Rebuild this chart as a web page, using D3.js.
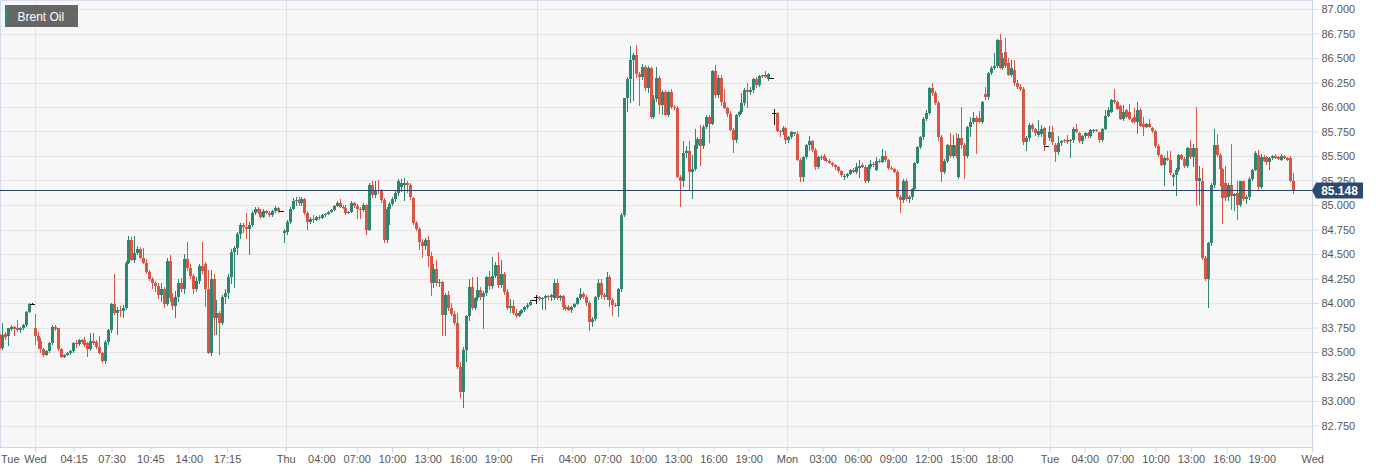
<!DOCTYPE html>
<html><head><meta charset="utf-8">
<script src="https://cdn.jsdelivr.net/npm/d3@7/dist/d3.min.js"></script>
<style>
html,body{margin:0;padding:0;background:#fff;}
svg{display:block;font-family:"Liberation Sans",Arial,Helvetica,sans-serif;}
</style></head><body>
<svg id="chart" width="1379" height="472"></svg>
<script>
const seriesName = "Brent Oil";
const lastPrice = 85.148;

// OHLC bars [open, high, low, close], 15-minute candles
const tueBars = [
[83.68,83.68,83.39,83.53],[83.54,83.80,83.53,83.67],[83.68,83.70,83.63,83.65],[83.66,83.75,83.57,83.74],[83.73,83.78,83.72,83.76],
[83.76,83.77,83.67,83.73],[83.74,83.83,83.71,83.72],[83.72,83.76,83.70,83.75],[83.74,83.79,83.73,83.78],[83.78,83.92,83.76,83.91],
[83.91,84.00,83.90,83.99],[83.99,84.00,83.98,83.99]];
const wedBars = [
[83.74,83.89,83.58,83.66],[83.66,83.70,83.54,83.61],[83.61,83.64,83.50,83.53],[83.53,83.54,83.45,83.47],[83.47,83.52,83.46,83.51],
[83.51,83.60,83.50,83.59],[83.59,83.78,83.58,83.76],[83.76,83.78,83.72,83.73],[83.74,83.75,83.52,83.53],[83.53,83.54,83.44,83.45],
[83.45,83.48,83.44,83.47],[83.47,83.50,83.46,83.49],[83.49,83.52,83.47,83.51],[83.51,83.60,83.50,83.59],[83.59,83.62,83.55,83.58],
[83.58,83.63,83.57,83.62],[83.62,83.63,83.59,83.60],[83.62,83.65,83.56,83.57],[83.59,83.60,83.45,83.53],[83.53,83.69,83.52,83.61],
[83.61,83.69,83.58,83.59],[83.60,83.62,83.54,83.55],[83.55,83.66,83.48,83.49],[83.49,83.50,83.39,83.41],[83.41,83.62,83.38,83.60],
[83.60,83.73,83.58,83.72],[83.72,84.00,83.70,83.99],[83.99,84.30,83.88,83.90],[83.90,83.96,83.68,83.93],[83.93,83.97,83.86,83.92],
[83.92,83.98,83.85,83.95],[83.95,84.43,83.93,84.41],[84.41,84.68,84.40,84.64],[84.64,84.67,84.43,84.44],[84.44,84.68,84.41,84.51],
[84.51,84.58,84.49,84.55],[84.55,84.57,84.45,84.46],[84.46,84.56,84.40,84.41],[84.41,84.45,84.30,84.32],[84.32,84.34,84.23,84.25],
[84.25,84.27,84.15,84.20],[84.20,84.22,84.12,84.17],[84.17,84.20,84.05,84.08],[84.08,84.20,84.02,84.14],[84.14,84.16,83.95,83.99],
[83.99,84.46,83.97,84.43],[84.43,84.49,84.02,84.05],[84.05,84.10,83.93,83.97],[83.97,84.12,83.85,84.06],[84.06,84.24,84.02,84.20],
[84.20,84.26,84.12,84.14],[84.14,84.50,84.10,84.45],[84.45,84.62,84.33,84.36],[84.36,84.40,84.25,84.28],[84.28,84.30,84.10,84.14],
[84.14,84.27,84.12,84.22],[84.22,84.40,84.20,84.38],[84.38,84.62,84.30,84.33],[84.40,84.42,83.96,84.14],[84.14,84.34,83.48,83.49],
[83.49,84.34,83.46,84.24],[84.24,84.30,83.68,83.85],[83.85,84.03,83.68,83.90],[83.90,83.92,83.47,83.80],[83.80,84.08,83.78,84.06],
[84.06,84.14,84.00,84.10],[84.10,84.30,84.05,84.27],[84.27,84.55,84.20,84.52],[84.52,84.58,84.16,84.56],[84.56,84.72,84.50,84.70],
[84.70,84.82,84.66,84.80],[84.80,84.82,84.72,84.78],[84.78,84.92,84.66,84.76],[84.76,84.83,84.50,84.80],[84.80,84.94,84.78,84.92],
[84.92,84.98,84.90,84.96],[84.96,84.98,84.91,84.93],[84.93,84.96,84.86,84.88],[84.88,84.96,84.87,84.94],[84.94,84.95,84.91,84.92],
[84.92,84.94,84.88,84.90],[84.90,84.95,84.88,84.94],[84.94,84.99,84.92,84.97],[84.97,84.98,84.92,84.94],[84.94,84.94,84.94,84.94]];
const thuBars = [
[84.71,84.76,84.62,84.73],[84.72,84.85,84.70,84.83],[84.83,84.98,84.81,84.96],[84.96,85.07,84.95,85.04],[85.04,85.08,85.00,85.05],
[85.05,85.08,85.00,85.02],[85.02,85.08,85.00,85.06],[85.06,85.07,84.90,84.92],[84.92,84.94,84.75,84.83],[84.83,84.88,84.81,84.86],
[84.86,84.90,84.82,84.85],[84.85,84.89,84.84,84.88],[84.88,84.90,84.85,84.87],[84.87,84.91,84.86,84.90],[84.90,84.92,84.88,84.91],
[84.91,84.94,84.90,84.93],[84.93,84.96,84.92,84.95],[84.95,85.00,84.94,84.99],[84.99,85.04,84.98,85.02],[85.02,85.06,84.97,84.98],
[84.98,85.00,84.96,84.97],[84.97,85.00,84.90,84.92],[84.92,84.94,84.91,84.93],[84.93,85.04,84.92,85.02],[85.02,85.03,84.97,84.99],
[84.99,85.01,84.86,84.96],[84.96,84.98,84.86,84.95],[84.95,85.02,84.93,85.00],[85.00,85.01,84.70,84.75],[84.75,85.22,84.74,85.20],
[85.20,85.25,85.08,85.10],[85.10,85.24,85.08,85.15],[85.15,85.26,85.12,85.14],[85.14,85.16,85.03,85.05],[85.05,85.07,84.62,84.64],
[84.64,84.98,84.62,84.96],[84.96,85.03,84.80,85.01],[85.01,85.08,84.99,85.06],[85.06,85.14,85.04,85.12],[85.12,85.27,85.10,85.25],
[85.18,85.27,85.14,85.22],[85.20,85.28,85.05,85.22],[85.22,85.24,85.13,85.20],[85.20,85.22,85.06,85.08],[85.07,85.08,84.80,84.82],
[84.82,84.84,84.74,84.76],[84.76,84.78,84.55,84.62],[84.62,84.65,84.46,84.58],[84.58,84.66,84.55,84.64],[84.64,84.68,84.37,84.48],
[84.48,84.52,84.08,84.20],[84.20,84.40,84.16,84.35],[84.35,84.44,84.18,84.20],[84.20,84.24,84.17,84.21],[84.21,84.22,83.67,83.88],
[83.88,84.10,83.67,84.08],[84.08,84.12,83.92,83.95],[83.95,84.00,83.87,83.89],[83.89,83.92,83.78,83.80],[83.80,83.90,83.33,83.35],
[83.35,83.40,83.04,83.09],[83.09,83.55,82.93,83.52],[83.52,83.88,83.40,83.87],[83.87,84.25,83.82,84.16],[84.16,84.27,83.93,83.95],
[83.95,84.06,83.93,84.05],[84.05,84.27,84.03,84.13],[84.13,84.16,84.04,84.06],[84.06,84.12,83.74,84.10],[84.10,84.28,84.08,84.27],
[84.27,84.33,84.14,84.17],[84.17,84.47,84.15,84.28],[84.28,84.42,84.26,84.39],[84.39,84.52,84.16,84.18],[84.18,84.44,84.16,84.30],
[84.30,84.32,84.09,84.11],[84.11,84.14,83.93,83.95],[83.95,84.04,83.90,83.97],[83.97,84.03,83.88,83.90],[83.90,83.94,83.85,83.87],
[83.87,83.92,83.86,83.90],[83.90,83.94,83.89,83.93],[83.93,83.97,83.91,83.96],[83.96,84.00,83.94,83.98],[83.98,84.03,83.97,84.01],
[84.03,84.03,84.03,84.03]];
const friBars = [
[84.06,84.08,84.00,84.06],[84.06,84.07,84.03,84.04],[84.04,84.06,83.93,84.05],[84.05,84.08,83.93,84.07],[84.07,84.08,84.04,84.06],
[84.06,84.09,84.03,84.08],[84.05,84.25,84.04,84.20],[84.20,84.25,84.04,84.05],[84.05,84.08,84.03,84.07],[84.07,84.08,83.93,83.96],
[83.96,83.98,83.92,83.94],[83.96,83.98,83.92,83.93],[83.93,83.97,83.90,83.96],[83.96,84.00,83.95,83.99],[83.99,84.06,83.98,84.05],
[84.05,84.15,84.04,84.09],[84.09,84.11,84.05,84.06],[84.06,84.08,83.97,84.00],[84.00,84.02,83.72,83.81],[83.81,83.86,83.76,83.84],
[83.84,84.07,83.82,84.06],[84.06,84.25,84.04,84.20],[84.20,84.25,84.05,84.08],[84.08,84.10,84.04,84.06],[84.06,84.32,84.04,84.27],
[84.27,84.29,83.96,84.03],[84.03,84.05,83.87,83.98],[83.98,84.00,83.96,83.97],[83.97,84.15,83.86,84.14],[84.14,84.92,84.12,84.90],
[84.90,86.09,84.88,86.09],[86.09,86.31,85.95,86.29],[86.29,86.62,86.05,86.48],[86.48,86.55,86.07,86.53],[86.53,86.63,86.30,86.34],
[86.34,86.36,86.02,86.31],[86.31,86.44,86.28,86.41],[86.41,86.43,86.17,86.19],[86.19,86.42,86.15,86.40],[86.40,86.41,85.88,85.90],
[85.90,86.12,85.88,86.08],[86.08,86.41,86.06,86.30],[86.30,86.32,85.93,86.02],[86.02,86.17,85.92,86.15],[86.15,86.17,85.91,85.92],
[85.92,86.16,85.90,86.15],[86.15,86.18,85.98,86.00],[86.00,86.02,85.97,85.99],[85.99,86.01,85.28,85.29],[85.29,85.31,84.98,85.24],
[85.24,85.65,85.19,85.53],[85.53,85.60,85.48,85.55],[85.55,85.65,85.15,85.34],[85.34,85.51,85.07,85.37],[85.37,85.78,85.35,85.61],
[85.61,85.69,85.58,85.67],[85.67,85.82,85.40,85.60],[85.60,85.82,85.58,85.80],[85.80,85.92,85.78,85.90],[85.90,85.92,85.64,85.83],
[85.83,86.38,85.82,86.37],[86.37,86.43,86.10,86.12],[86.12,86.33,86.10,86.30],[86.30,86.33,86.02,86.05],[86.05,86.18,85.98,85.99],
[85.99,86.00,85.90,85.93],[85.93,85.96,85.76,85.77],[85.77,85.79,85.54,85.66],[85.66,85.93,85.64,85.92],[85.92,85.96,85.90,85.95],
[85.95,86.14,85.93,86.04],[86.04,86.19,86.02,86.17],[86.17,86.25,85.99,86.15],[86.15,86.20,86.13,86.17],[86.17,86.30,86.15,86.29],
[86.29,86.31,86.20,86.22],[86.22,86.33,86.21,86.32],[86.32,86.33,86.30,86.33],[86.33,86.37,86.30,86.31],[86.29,86.35,86.27,86.34],
[86.30,86.30,86.30,86.30]];
const monBars = [
[85.94,85.98,85.82,85.94],[85.94,85.95,85.75,85.76],[85.76,85.77,85.70,85.74],[85.74,85.81,85.72,85.79],[85.79,85.80,85.63,85.66],
[85.66,85.70,85.64,85.69],[85.69,85.76,85.68,85.74],[85.74,85.75,85.71,85.72],[85.72,85.76,85.45,85.46],[85.46,85.48,85.24,85.29],
[85.29,85.50,85.24,85.49],[85.49,85.62,85.47,85.61],[85.61,85.70,85.56,85.65],[85.65,85.66,85.55,85.56],[85.56,85.58,85.36,85.39],
[85.39,85.50,85.37,85.49],[85.49,85.51,85.46,85.48],[85.50,85.52,85.45,85.46],[85.46,85.48,85.44,85.45],[85.45,85.47,85.42,85.43],
[85.43,85.44,85.39,85.41],[85.41,85.42,85.36,85.39],[85.39,85.40,85.33,85.35],[85.35,85.36,85.29,85.31],[85.29,85.32,85.26,85.30],
[85.30,85.33,85.28,85.32],[85.32,85.37,85.31,85.36],[85.36,85.38,85.33,85.34],[85.34,85.43,85.32,85.39],[85.38,85.46,85.28,85.40],
[85.41,85.43,85.38,85.39],[85.39,85.41,85.23,85.24],[85.24,85.41,85.23,85.39],[85.39,85.46,85.37,85.42],[85.42,85.44,85.39,85.41],
[85.36,85.49,85.35,85.45],[85.45,85.47,85.43,85.44],[85.44,85.57,85.43,85.50],[85.50,85.55,85.44,85.46],[85.46,85.47,85.36,85.38],
[85.38,85.40,85.36,85.37],[85.37,85.38,85.33,85.34],[85.34,85.36,85.07,85.08],[85.08,85.10,84.92,85.05],[85.05,85.27,85.03,85.25],
[85.25,85.27,85.05,85.06],[85.06,85.10,85.03,85.08],[85.08,85.17,85.06,85.16],[85.16,85.44,85.15,85.43],[85.43,85.60,85.42,85.59],
[85.59,85.70,85.58,85.69],[85.69,85.90,85.67,85.88],[85.88,85.97,85.86,85.94],[85.94,86.20,85.92,86.19],[86.19,86.25,86.12,86.14],
[86.14,86.16,86.03,86.04],[86.04,86.06,85.66,85.69],[85.69,85.71,85.24,85.34],[85.34,85.47,85.32,85.45],[85.45,85.62,85.43,85.61],
[85.61,85.73,85.48,85.50],[85.50,85.71,85.48,85.61],[85.61,85.73,85.48,85.50],[85.29,85.72,85.27,85.68],[85.68,86.00,85.58,85.61],
[85.61,85.63,85.27,85.50],[85.50,85.81,85.48,85.80],[85.80,85.90,85.70,85.85],[85.85,85.95,85.83,85.89],[85.89,85.91,85.53,85.85],
[85.89,85.96,85.84,85.85],[85.85,86.06,85.83,86.05],[86.13,86.20,86.08,86.10],[86.10,86.36,86.08,86.35],[86.35,86.42,86.33,86.40],
[86.40,86.55,86.38,86.42],[86.42,86.69,86.40,86.68],[86.68,86.75,86.39,86.40],[86.40,86.55,86.38,86.50],[86.56,86.70,86.40,86.42],
[86.45,86.50,86.32,86.33],[86.33,86.48,86.31,86.40],[86.38,86.48,86.22,86.24],[86.24,86.28,86.19,86.20],[86.20,86.23,86.17,86.18],
[86.18,86.20,85.62,85.64],[85.64,85.70,85.56,85.68],[85.68,85.84,85.66,85.82],[85.82,85.84,85.75,85.78],[85.78,85.79,85.71,85.73],
[85.71,85.87,85.70,85.76],[85.72,85.82,85.70,85.78],[85.79,85.80,85.56,85.61],[85.60,85.60,85.60,85.60]];
const tue2Bars = [
[85.68,85.81,85.66,85.75],[85.75,85.81,85.62,85.64],[85.61,85.63,85.44,85.54],[85.54,85.70,85.52,85.63],[85.63,85.66,85.61,85.65],
[85.66,85.67,85.64,85.65],[85.66,85.71,85.63,85.64],[85.65,85.67,85.48,85.66],[85.66,85.80,85.64,85.78],[85.78,85.83,85.74,85.75],
[85.73,85.74,85.64,85.65],[85.65,85.71,85.63,85.70],[85.70,85.75,85.68,85.73],[85.73,85.74,85.69,85.70],[85.70,85.78,85.69,85.77],
[85.76,85.78,85.74,85.77],[85.77,85.78,85.75,85.76],[85.74,85.75,85.64,85.66],[85.66,85.79,85.65,85.78],[85.78,85.97,85.77,85.91],
[85.91,86.00,85.90,85.97],[85.95,86.08,85.94,86.07],[86.07,86.18,86.04,86.05],[86.05,86.06,85.97,85.98],[86.01,86.02,85.87,85.88],
[85.88,86.02,85.86,85.95],[85.97,85.98,85.89,85.90],[85.95,86.03,85.87,85.88],[85.88,85.89,85.84,85.85],[85.90,85.99,85.83,85.85],
[85.85,86.05,85.73,85.97],[85.97,85.99,85.80,85.81],[85.83,85.90,85.71,85.80],[85.80,85.84,85.79,85.83],[85.83,85.88,85.79,85.80],
[85.79,85.80,85.74,85.76],[85.76,85.77,85.59,85.60],[85.60,85.62,85.50,85.51],[85.51,85.52,85.40,85.41],[85.41,85.50,85.20,85.48],
[85.48,85.55,85.45,85.46],[85.46,85.55,85.31,85.33],[85.29,85.33,85.20,85.31],[85.31,85.38,85.10,85.36],[85.36,85.52,85.34,85.51],
[85.51,85.52,85.46,85.47],[85.47,85.49,85.38,85.40],[85.40,85.59,85.38,85.58],[85.58,85.66,85.47,85.49],[85.49,85.62,85.39,85.58],
[85.58,86.00,85.00,85.24],[85.24,85.40,85.01,85.28],[85.24,85.38,84.44,84.46],[84.46,84.48,84.23,84.25],[84.25,84.62,83.95,84.61],
[84.61,85.22,84.59,85.20],[85.20,85.78,85.18,85.61],[85.61,85.72,85.49,85.51],[85.51,85.53,85.20,85.37],[85.37,85.38,84.81,85.07],
[85.22,85.40,85.05,85.07],[85.08,85.22,85.05,85.20],[85.20,85.62,84.95,85.09],[85.09,85.12,84.94,85.11],[85.12,85.24,84.85,85.00],
[85.00,85.25,84.98,85.24],[85.24,85.25,85.05,85.06],[85.06,85.10,85.02,85.08],[85.08,85.29,85.06,85.27],[85.27,85.37,85.25,85.36],
[85.36,85.55,85.35,85.53],[85.51,85.56,85.16,85.18],[85.18,85.52,85.17,85.49],[85.49,85.51,85.44,85.45],[85.49,85.50,85.41,85.44],
[85.44,85.49,85.36,85.48],[85.48,85.51,85.46,85.50],[85.50,85.52,85.47,85.48],[85.49,85.50,85.46,85.47],[85.46,85.52,85.45,85.50],
[85.50,85.51,85.47,85.48],[85.48,85.49,85.45,85.46],[85.48,85.50,85.24,85.25],[85.25,85.33,85.12,85.148]];

const yTickValues = [82.75,83,83.25,83.5,83.75,84,84.25,84.5,84.75,85,85.25,85.5,85.75,86,86.25,86.5,86.75,87];
const firstLabel = "Tue";
const xTickLabels = ["Wed","04:15","07:30","10:45","14:00","17:15",
  "Thu","04:00","07:00","10:00","13:00","16:00","19:00",
  "Fri","04:00","07:00","10:00","13:00","16:00","19:00",
  "Mon","03:00","06:00","09:00","12:00","15:00","18:00",
  "Tue","04:00","07:00","10:00","13:00","16:00","19:00","Wed"];
// tick positions in candle-slot units
const xTickSlots = [12.14,25.33,38.25,51.48,64.58,77.6,
  97.61,109.78,121.82,133.86,146.03,158.06,170.0,
  183.16,195.2,207.36,219.4,231.37,243.44,255.47,
  268.53,280.7,292.7,304.7,316.7,328.7,340.87,
  358.05,370.05,382.05,394.2,406.25,418.4,430.4,447.6];
const dayNames = ["Mon","Tue","Wed","Thu","Fri"];

const UP = "#2e8670", DOWN = "#d95646", FLAT = "#111";
const bars = [].concat(tueBars, wedBars, thuBars, friBars, monBars, tue2Bars)
  .map((b, i) => ({i, o: b[0], h: b[1], l: b[2], c: b[3]}));

const plotR = 1312, plotB = 447;
const x = d3.scaleLinear().domain([0, 447.6]).range([-0.6, 1312.2]);
const y = d3.scaleLinear().domain([82.75, 87]).range([425.5, 9]);

const svg = d3.select("#chart");
svg.append("defs").append("clipPath").attr("id", "plotclip")
  .append("rect").attr("x", 0).attr("y", 0).attr("width", plotR).attr("height", plotB);

svg.append("rect").attr("x", 0).attr("y", 0).attr("width", plotR).attr("height", plotB).attr("fill", "#f7f7f7");

// horizontal grid
svg.append("g").selectAll("line").data(yTickValues).join("line")
  .attr("x1", 0).attr("x2", plotR)
  .attr("y1", d => Math.round(y(d)) + 0.5).attr("y2", d => Math.round(y(d)) + 0.5)
  .attr("stroke", "#e4e4e4").attr("stroke-width", 1);

// vertical day grid
const dayTicks = xTickSlots.filter((s, k) => dayNames.includes(xTickLabels[k]) && k < xTickSlots.length - 1);
svg.append("g").selectAll("line").data(dayTicks).join("line")
  .attr("x1", d => Math.round(x(d)) + 0.5).attr("x2", d => Math.round(x(d)) + 0.5)
  .attr("y1", 0).attr("y2", plotB)
  .attr("stroke", "#e4e4e4").attr("stroke-width", 1);

// frame
svg.append("line").attr("x1", 0.5).attr("x2", 0.5).attr("y1", 0).attr("y2", plotB).attr("stroke", "#d6dbee");
svg.append("line").attr("x1", 0).attr("x2", plotR).attr("y1", 0.5).attr("y2", 0.5).attr("stroke", "#d6dbee");

// candles
const cg = svg.append("g").attr("clip-path", "url(#plotclip)").attr("shape-rendering", "crispEdges");
const col = d => d.c > d.o ? UP : (d.c < d.o ? DOWN : FLAT);
cg.selectAll("line.wick").data(bars).join("line").attr("class", "wick")
  .attr("x1", d => Math.round(x(d.i)) + 0.5).attr("x2", d => Math.round(x(d.i)) + 0.5)
  .attr("y1", d => y(d.h)).attr("y2", d => y(d.l) + 0.5)
  .attr("stroke", col).attr("stroke-width", 1);
cg.selectAll("rect.body").data(bars).join("rect").attr("class", "body")
  .attr("x", d => d.o === d.c ? Math.round(x(d.i)) - 2 : Math.round(x(d.i)) - 1)
  .attr("width", d => d.o === d.c ? 5 : 3)
  .attr("y", d => y(Math.max(d.o, d.c)))
  .attr("height", d => Math.max(1, Math.abs(y(d.o) - y(d.c))))
  .attr("fill", col);

// last price line
const py = Math.round(y(lastPrice)) + 0.5;
svg.append("line").attr("x1", 0).attr("x2", plotR).attr("y1", py).attr("y2", py)
  .attr("stroke", "#2d4166").attr("stroke-width", 1);

// axes
svg.append("line").attr("x1", plotR + 0.5).attr("x2", plotR + 0.5).attr("y1", 0).attr("y2", plotB + 5).attr("stroke", "#ccd6eb");
svg.append("line").attr("x1", 0).attr("x2", plotR + 1).attr("y1", plotB + 0.5).attr("y2", plotB + 0.5).attr("stroke", "#ccd6eb");

const yAxis = svg.append("g").attr("transform", `translate(${plotR + 0.5},0)`)
  .call(d3.axisRight(y).tickValues(yTickValues).tickFormat(d3.format(".3f")).tickSize(6).tickPadding(3));
yAxis.select(".domain").remove();
yAxis.selectAll(".tick line").attr("stroke", "#ccd6eb");
yAxis.selectAll("text").attr("fill", "#555").attr("font-size", 11).attr("font-family", "Liberation Sans, Arial, sans-serif");

const xAxis = svg.append("g").attr("transform", `translate(0,${plotB + 0.5})`)
  .call(d3.axisBottom(x).tickValues(xTickSlots).tickFormat((d, k) => xTickLabels[k]).tickSize(5).tickPadding(3));
xAxis.select(".domain").remove();
xAxis.selectAll(".tick line").attr("stroke", "#ccd6eb");
xAxis.selectAll("text").attr("fill", "#555").attr("font-size", 11).attr("font-family", "Liberation Sans, Arial, sans-serif");
svg.append("text").attr("x", 1).attr("y", plotB + 0.5 + 8 + 7.8).attr("fill", "#555")
  .attr("font-size", 11).text(firstLabel);

// last price tag
const tagL = plotR + 4, tagR = 1363, tagT = 182.5, tagB = 198.5;
svg.append("path")
  .attr("d", `M${plotR},${py} L${tagL},${tagT} L${tagR},${tagT} L${tagR},${tagB} L${tagL},${tagB} Z`)
  .attr("fill", "#2c4a6e");
svg.append("text").attr("x", (tagL + tagR) / 2).attr("y", py + 4.5).attr("text-anchor", "middle")
  .attr("fill", "#fff").attr("font-size", 12).attr("font-weight", "bold").text(d3.format(".3f")(lastPrice));

// legend
svg.append("rect").attr("x", 5).attr("y", 5).attr("width", 73).attr("height", 22).attr("fill", "rgba(90,90,90,0.93)");
svg.append("rect").attr("x", 5).attr("y", 5).attr("width", 2.5).attr("height", 22).attr("fill", UP);
svg.append("text").attr("x", 17.5).attr("y", 20.5).attr("fill", "#fff").attr("font-size", 12).text(seriesName);
</script>
</body></html>
